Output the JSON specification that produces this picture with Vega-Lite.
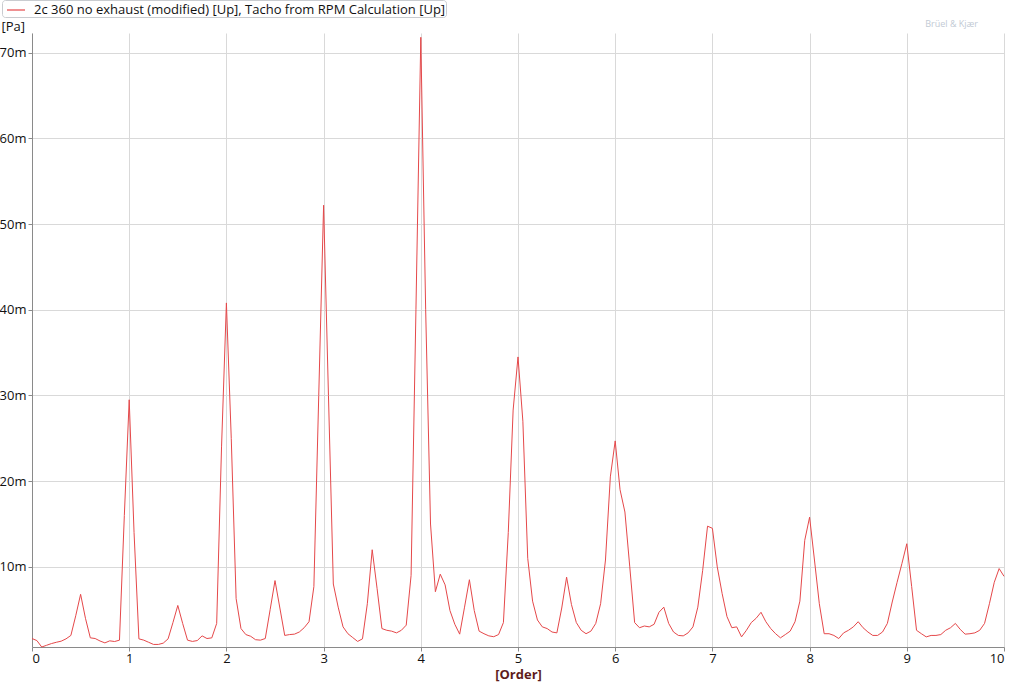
{
  "$schema": "https://vega.github.io/schema/vega-lite/v6.json",
  "width": 972,
  "height": 614,
  "autosize": {"type": "none"},
  "padding": {"left": 32, "top": 33, "right": 20, "bottom": 37},
  "background": "white",
  "config": {
    "font": "Open Sans",
    "view": {"stroke": null},
    "axis": {"domainColor": "#8a8a8a", "tickColor": "#8a8a8a", "tickSize": 4, "gridColor": "#d9d9d9", "labelColor": "#111", "labelFontSize": 13, "labelFont": "Open Sans", "titleFont": "Open Sans"}
  },
  "data": {"values": [
    {"o":0.00,"p":1.64},{"o":0.05,"p":1.40},{"o":0.10,"p":0.65},{"o":0.15,"p":0.85},{"o":0.20,"p":1.05},
    {"o":0.25,"p":1.20},{"o":0.30,"p":1.33},{"o":0.35,"p":1.60},{"o":0.40,"p":2.00},{"o":0.45,"p":4.30},
    {"o":0.50,"p":6.80},{"o":0.55,"p":4.00},{"o":0.60,"p":1.72},{"o":0.65,"p":1.64},{"o":0.70,"p":1.35},
    {"o":0.75,"p":1.13},{"o":0.80,"p":1.37},{"o":0.85,"p":1.29},{"o":0.90,"p":1.45},{"o":0.95,"p":16.0},
    {"o":1.00,"p":29.5},{"o":1.05,"p":14.0},{"o":1.10,"p":1.60},{"o":1.15,"p":1.45},{"o":1.20,"p":1.20},
    {"o":1.25,"p":0.95},{"o":1.30,"p":0.95},{"o":1.35,"p":1.10},{"o":1.40,"p":1.60},{"o":1.45,"p":3.50},
    {"o":1.50,"p":5.50},{"o":1.55,"p":3.40},{"o":1.60,"p":1.45},{"o":1.65,"p":1.30},{"o":1.70,"p":1.40},
    {"o":1.75,"p":1.95},{"o":1.80,"p":1.64},{"o":1.85,"p":1.72},{"o":1.90,"p":3.40},{"o":1.95,"p":24.0},
    {"o":2.00,"p":40.8},{"o":2.05,"p":25.0},{"o":2.10,"p":6.3},{"o":2.15,"p":2.8},{"o":2.20,"p":2.1},
    {"o":2.25,"p":1.9},{"o":2.30,"p":1.5},{"o":2.35,"p":1.45},{"o":2.40,"p":1.64},{"o":2.45,"p":5.0},
    {"o":2.50,"p":8.4},{"o":2.55,"p":5.2},{"o":2.60,"p":2.0},{"o":2.65,"p":2.1},{"o":2.70,"p":2.15},
    {"o":2.75,"p":2.4},{"o":2.80,"p":2.9},{"o":2.85,"p":3.6},{"o":2.90,"p":7.7},{"o":2.95,"p":30.0},
    {"o":3.00,"p":52.2},{"o":3.05,"p":30.0},{"o":3.10,"p":8.0},{"o":3.15,"p":5.3},{"o":3.20,"p":3.0},
    {"o":3.25,"p":2.2},{"o":3.30,"p":1.75},{"o":3.35,"p":1.3},{"o":3.40,"p":1.6},{"o":3.45,"p":5.7},
    {"o":3.50,"p":12.0},{"o":3.55,"p":7.5},{"o":3.60,"p":2.8},{"o":3.65,"p":2.6},{"o":3.70,"p":2.5},
    {"o":3.75,"p":2.3},{"o":3.80,"p":2.6},{"o":3.85,"p":3.2},{"o":3.90,"p":9.0},{"o":3.95,"p":40.0},
    {"o":4.00,"p":71.8},{"o":4.05,"p":40.0},{"o":4.10,"p":15.0},{"o":4.15,"p":7.1},{"o":4.20,"p":9.15},
    {"o":4.25,"p":7.9},{"o":4.30,"p":4.9},{"o":4.35,"p":3.3},{"o":4.40,"p":2.15},{"o":4.45,"p":5.3},
    {"o":4.50,"p":8.5},{"o":4.55,"p":4.9},{"o":4.60,"p":2.5},{"o":4.65,"p":2.2},{"o":4.70,"p":1.95},
    {"o":4.75,"p":1.85},{"o":4.80,"p":2.1},{"o":4.85,"p":3.5},{"o":4.90,"p":14.0},{"o":4.95,"p":28.3},
    {"o":5.00,"p":34.5},{"o":5.05,"p":27.0},{"o":5.10,"p":11.0},{"o":5.15,"p":6.0},{"o":5.20,"p":3.8},
    {"o":5.25,"p":3.0},{"o":5.30,"p":2.8},{"o":5.35,"p":2.4},{"o":5.40,"p":2.3},{"o":5.45,"p":5.2},
    {"o":5.50,"p":8.8},{"o":5.55,"p":5.6},{"o":5.60,"p":3.5},{"o":5.65,"p":2.6},{"o":5.70,"p":2.2},
    {"o":5.75,"p":2.5},{"o":5.80,"p":3.4},{"o":5.85,"p":5.7},{"o":5.90,"p":10.8},{"o":5.95,"p":20.5},
    {"o":6.00,"p":24.7},{"o":6.05,"p":19.0},{"o":6.10,"p":16.4},{"o":6.15,"p":10.0},{"o":6.20,"p":3.5},
    {"o":6.25,"p":2.9},{"o":6.30,"p":3.1},{"o":6.35,"p":3.0},{"o":6.40,"p":3.3},{"o":6.45,"p":4.7},
    {"o":6.50,"p":5.3},{"o":6.55,"p":3.4},{"o":6.60,"p":2.4},{"o":6.65,"p":2.0},{"o":6.70,"p":1.95},
    {"o":6.75,"p":2.3},{"o":6.80,"p":3.0},{"o":6.85,"p":5.3},{"o":6.90,"p":9.6},{"o":6.95,"p":14.75},
    {"o":7.00,"p":14.5},{"o":7.05,"p":10.0},{"o":7.10,"p":6.9},{"o":7.15,"p":4.2},{"o":7.20,"p":2.9},
    {"o":7.25,"p":3.0},{"o":7.30,"p":1.83},{"o":7.35,"p":2.6},{"o":7.40,"p":3.5},{"o":7.45,"p":4.0},
    {"o":7.50,"p":4.7},{"o":7.55,"p":3.6},{"o":7.60,"p":2.8},{"o":7.65,"p":2.2},{"o":7.70,"p":1.72},
    {"o":7.75,"p":2.1},{"o":7.80,"p":2.5},{"o":7.85,"p":3.6},{"o":7.90,"p":6.0},{"o":7.95,"p":13.1},
    {"o":8.00,"p":15.8},{"o":8.05,"p":10.8},{"o":8.10,"p":5.7},{"o":8.15,"p":2.2},{"o":8.20,"p":2.2},
    {"o":8.25,"p":2.0},{"o":8.30,"p":1.64},{"o":8.35,"p":2.3},{"o":8.40,"p":2.6},{"o":8.45,"p":3.0},
    {"o":8.50,"p":3.6},{"o":8.55,"p":2.9},{"o":8.60,"p":2.4},{"o":8.65,"p":2.0},{"o":8.70,"p":2.0},
    {"o":8.75,"p":2.4},{"o":8.80,"p":3.4},{"o":8.85,"p":5.9},{"o":8.90,"p":8.2},{"o":8.95,"p":10.4},
    {"o":9.00,"p":12.7},{"o":9.05,"p":7.7},{"o":9.10,"p":2.6},{"o":9.15,"p":2.2},{"o":9.20,"p":1.83},
    {"o":9.25,"p":2.0},{"o":9.30,"p":2.0},{"o":9.35,"p":2.1},{"o":9.40,"p":2.6},{"o":9.45,"p":2.9},
    {"o":9.50,"p":3.4},{"o":9.55,"p":2.7},{"o":9.60,"p":2.15},{"o":9.65,"p":2.2},{"o":9.70,"p":2.3},
    {"o":9.75,"p":2.6},{"o":9.80,"p":3.4},{"o":9.85,"p":5.7},{"o":9.90,"p":8.2},{"o":9.95,"p":9.8},
    {"o":10.00,"p":8.9}
  ]},
  "layer": [
    {
      "mark": {"type": "line", "strokeWidth": 1, "interpolate": "linear"},
      "encoding": {
        "x": {"field": "o", "type": "quantitative", "scale": {"domain": [0, 10], "nice": false},
          "axis": {"values": [0,1,2,3,4,5,6,7,8,9,10], "format": "d", "title": "[Order]", "titleFontWeight": "bold", "titleColor": "#5e1c1c", "titleFontSize": 13, "titlePadding": 3, "labelPadding": 1}},
        "y": {"field": "p", "type": "quantitative", "scale": {"domain": [0.65, 72.3], "nice": false, "zero": false},
          "axis": {"values": [10,20,30,40,50,60,70], "labelExpr": "datum.value + 'm'", "labelPadding": 2, "title": "[Pa]", "titleAngle": 0, "titleAlign": "left", "titleBaseline": "bottom", "titleX": -31, "titleY": 0, "titleFontWeight": "normal", "titleFontSize": 13, "titleColor": "#111"}},
        "color": {"datum": "2c 360 no exhaust (modified) [Up], Tacho from RPM Calculation [Up]", "type": "nominal",
          "scale": {"range": ["#e5484a"]},
          "legend": {"title": null, "orient": "none", "legendX": -30, "legendY": -33, "strokeColor": "#c9ccd0", "cornerRadius": 3, "padding": 0, "symbolType": "stroke", "symbolSize": 324, "symbolStrokeWidth": 1.2, "symbolStrokeColor": "#e5484a", "symbolFillColor": "#e5484a", "symbolOffset": 4, "labelFontSize": 13, "labelColor": "#111", "labelFont": "Open Sans", "labelLimit": 800, "labelOffset": 8}}
      }
    },
    {
      "data": {"values": [{"o": 10, "p": 72.3, "t": "Brüel & Kjær"}]},
      "mark": {"type": "text", "align": "right", "baseline": "bottom", "dx": -26, "dy": -4, "fontSize": 9, "color": "#c2cad4", "font": "Open Sans"},
      "encoding": {
        "x": {"field": "o", "type": "quantitative"},
        "y": {"field": "p", "type": "quantitative"},
        "text": {"field": "t"}
      }
    }
  ]
}
